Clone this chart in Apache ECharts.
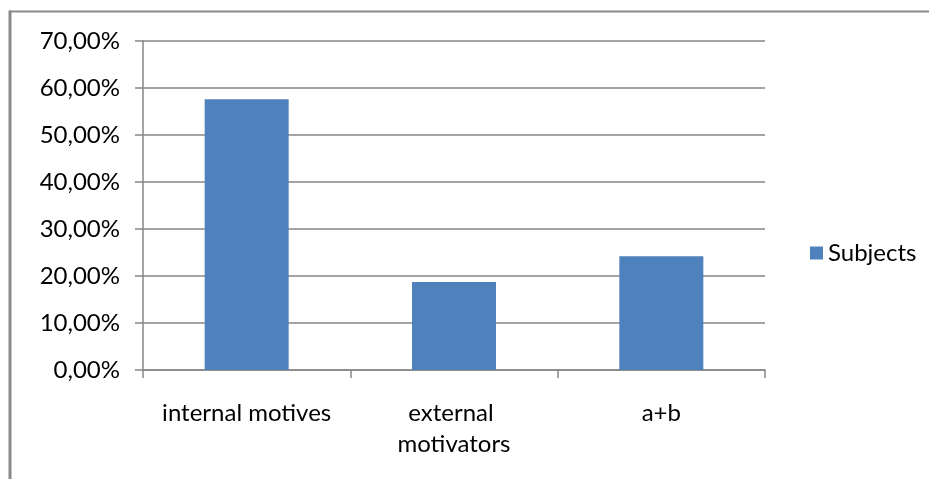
<!DOCTYPE html>
<html>
<head>
<meta charset="utf-8">
<script src="https://cdn.jsdelivr.net/npm/echarts@6/dist/echarts.min.js"></script>
<style>
html,body{margin:0;padding:0;background:#fff;}
#chart{width:929px;height:479px;}
</style>
</head>
<body>
<div id="chart"></div>
<script>
const categories = ['internal motives', 'external motivators', 'a+b'];
const seriesName = 'Subjects';
const values = [0.576, 0.187, 0.242];
const yTicks = { min: 0, max: 0.7, interval: 0.1 };

const FONT = 'Lato';
const FS = 24;
const chart = echarts.init(document.getElementById('chart'));
chart.setOption({
  animation: false,
  backgroundColor: '#ffffff',
  textStyle: { fontFamily: FONT },
  graphic: [
    { type: 'line', shape: { x1: 9, y1: 11.5, x2: 929, y2: 11.5 }, style: { stroke: '#8a8a8a', lineWidth: 2 } },
    { type: 'line', shape: { x1: 10, y1: 10.5, x2: 10, y2: 479 }, style: { stroke: '#8a8a8a', lineWidth: 3 } }
  ],
  grid: { left: 143, right: 164, top: 41, bottom: 109, containLabel: false },
  legend: {
    data: [seriesName],
    orient: 'vertical',
    left: 805,
    top: 236,
    icon: 'rect',
    itemWidth: 13,
    itemHeight: 13,
    itemGap: 6,
    textStyle: { fontFamily: FONT, fontSize: FS, color: '#000' }
  },
  xAxis: {
    type: 'category',
    data: categories,
    axisLine: { lineStyle: { color: '#868686', width: 1.5 } },
    axisTick: { show: true, length: 8, alignWithLabel: false, lineStyle: { color: '#868686', width: 1.5 } },
    axisLabel: {
      interval: 0,
      margin: 28,
      color: '#000',
      fontFamily: FONT,
      fontSize: FS,
      lineHeight: 31,
      width: 195,
      overflow: 'break'
    }
  },
  yAxis: {
    type: 'value',
    min: yTicks.min,
    max: yTicks.max,
    interval: yTicks.interval,
    axisLine: { show: true, lineStyle: { color: '#868686', width: 1.5 } },
    axisTick: { show: true, length: 8, lineStyle: { color: '#868686', width: 1.5 } },
    splitLine: { show: true, lineStyle: { color: '#868686', width: 1.5 } },
    axisLabel: {
      margin: 23,
      color: '#000',
      fontFamily: FONT,
      fontSize: FS,
      formatter: function (v) { return (v * 100).toFixed(2).replace('.', ',') + '%'; }
    }
  },
  series: [{
    name: seriesName,
    type: 'bar',
    data: values,
    barWidth: 84,
    itemStyle: { color: '#4F81BD' }
  }]
});
</script>
</body>
</html>
